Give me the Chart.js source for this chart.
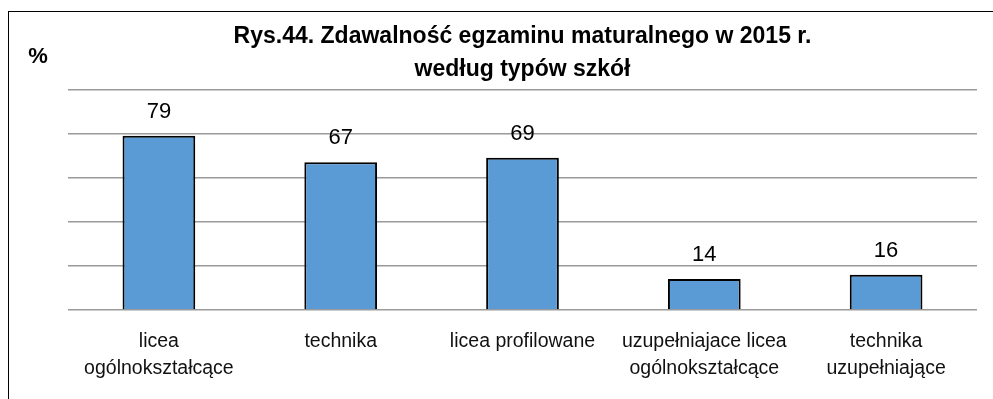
<!DOCTYPE html>
<html>
<head>
<meta charset="utf-8">
<script src="https://cdn.jsdelivr.net/npm/chart.js@4"></script>
<style>
  html, body { margin: 0; padding: 0; background: #fff; overflow: hidden; }
  #wrap { position: relative; width: 993px; height: 399px; }
  #frame { position: absolute; left: 8px; top: 11px; width: 1100px; height: 500px;
           border-left: 1.5px solid #000; border-top: 1.5px solid #000; }
  canvas { position: absolute; left: 0; top: 0; }
</style>
</head>
<body>
<div id="wrap">
  <div id="frame"></div>
  <canvas id="myChart" width="993" height="399"></canvas>
</div>
<script>
/*
*Chart data
*/
const schoolTypes = [
    ['licea', 'ogólnokształcące'],
    'technika',
    'licea profilowane',
    ['uzupełniajace licea', 'ogólnokształcące'],
    ['technika', 'uzupełniające']
];
const passRates = [79, 67, 69, 14, 16];
const titleLines = ['Rys.44. Zdawalność egzaminu maturalnego w 2015 r.', 'według typów szkół'];

const FONT = '"Liberation Sans", Arial, sans-serif';

/*
*Writes the value above each bar and the % sign in the corner
*/
const valueLabels = {
    id: 'valueLabels',
    afterDatasetsDraw(chart){
        const ctx = chart.ctx;
        const meta = chart.getDatasetMeta(0);
        ctx.save();
        ctx.fillStyle = '#000';
        ctx.font = '22px ' + FONT;
        ctx.textAlign = 'center';
        ctx.textBaseline = 'alphabetic';
        meta.data.forEach(function(bar, i){
            ctx.fillText(chart.data.datasets[0].data[i], bar.x, bar.y - 18);
        });
        ctx.font = 'bold 22px ' + FONT;
        ctx.fillText('%', 38, 63);
        ctx.restore();
    }
};

const ctx = document.getElementById('myChart').getContext('2d');
const myChart = new Chart(ctx, {
    type: 'bar',
    data: {
        labels: schoolTypes,
        datasets: [{
            data: passRates,
            backgroundColor: '#5B9BD5',
            borderColor: '#000',
            borderWidth: 2,
            borderSkipped: 'bottom',
            categoryPercentage: 0.4,
            barPercentage: 1
        }]
    },
    options: {
        responsive: false,
        animation: false,
        layout: { padding: { left: 68, right: 16, top: 0, bottom: 0 } },
        plugins: {
            legend: { display: false },
            tooltip: { enabled: false },
            title: {
                display: true,
                text: titleLines,
                color: '#000',
                font: { family: FONT, size: 23, weight: 'bold', lineHeight: 1.4 },
                padding: { top: 21, bottom: 4 }
            }
        },
        scales: {
            x: {
                grid: { display: false },
                border: { display: false },
                ticks: {
                    color: '#111',
                    font: { family: FONT, size: 19.5, lineHeight: 1.4 },
                    padding: 10,
                    maxRotation: 0,
                    autoSkip: false
                },
                afterFit(scale){ scale.height = 89; }
            },
            y: {
                min: 0,
                max: 100,
                ticks: { display: false, stepSize: 20 },
                grid: { color: '#9a9a9a', lineWidth: 1.5, drawTicks: false },
                border: { display: false }
            }
        }
    },
    plugins: [valueLabels]
});
</script>
</body>
</html>
